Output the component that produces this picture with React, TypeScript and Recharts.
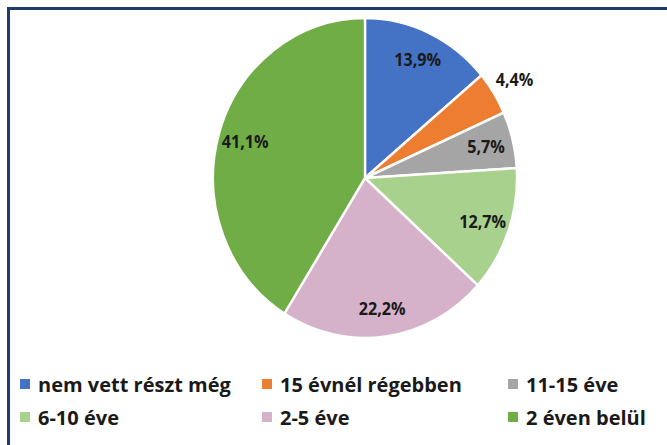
import React from "react";
import { Pie, PieChart, Cell } from "recharts";

const categories = [
  "nem vett részt még",
  "15 évnél régebben",
  "11-15 éve",
  "6-10 éve",
  "2-5 éve",
  "2 éven belül",
];
const shares = [13.9, 4.4, 5.7, 12.7, 22.2, 41.1];
const colors = ["#4472C4", "#ED7D31", "#A5A5A5", "#A9D18E", "#D5B2C9", "#70AD47"];
// slices whose label sits outside the pie
const outsideLabels = [1];

const data = categories.map((name, i) => ({ name, value: shares[i] }));

const RAD = Math.PI / 180;
const fmt = (v: number) => v.toFixed(1).replace(".", ",") + "%";

function renderLabel(props: any) {
  const { cx, cy, midAngle, outerRadius, index, value } = props;
  const r = outerRadius * (outsideLabels.includes(index) ? 1.16 : 0.82);
  const x = cx + r * Math.cos(-midAngle * RAD);
  const y = cy + r * Math.sin(-midAngle * RAD);
  return (
    <text
      x={x}
      y={y}
      textAnchor="middle"
      dominantBaseline="central"
      fill="#1a1a1a"
      fontSize={17}
      fontWeight={700}
      fontFamily="'Open Sans', sans-serif"
    >
      {fmt(value)}
    </text>
  );
}

const legendCols = [20, 262, 508];
const legendRows = [384, 417];

export default function App() {
  return (
    <div
      style={{
        position: "absolute",
        left: 0,
        top: 0,
        width: 667,
        height: 445,
        overflow: "hidden",
        background: "#fff",
      }}
    >
      <div
        style={{
          position: "absolute",
          left: 7,
          top: 7,
          width: 700,
          height: 500,
          border: "3px solid #1F3A6E",
          boxSizing: "border-box",
        }}
      />
      <div
        style={{
          position: "absolute",
          left: 0,
          top: 0,
          transform: "scaleX(0.95)",
          transformOrigin: "365px 178px",
        }}
      >
        <PieChart width={667} height={360} margin={{ top: 0, right: 0, bottom: 0, left: 0 }}>
          <Pie
            data={data}
            dataKey="value"
            nameKey="name"
            cx={365}
            cy={178}
            outerRadius={160}
            startAngle={90}
            endAngle={-270}
            stroke="#fff"
            strokeWidth={2.5}
            label={renderLabel}
            labelLine={false}
            isAnimationActive={false}
          >
            {data.map((d, i) => (
              <Cell key={d.name} fill={colors[i]} />
            ))}
          </Pie>
        </PieChart>
      </div>
      {categories.map((name, i) => (
        <div
          key={name}
          style={{
            position: "absolute",
            left: legendCols[i % 3],
            top: legendRows[Math.floor(i / 3)] - 15,
            height: 30,
            display: "flex",
            alignItems: "center",
            fontFamily: "'Open Sans', sans-serif",
            fontWeight: 700,
            fontSize: 20,
            color: "#1a1a1a",
            whiteSpace: "nowrap",
          }}
        >
          <span
            style={{
              display: "inline-block",
              width: 10,
              height: 10,
              background: colors[i],
              marginRight: 8,
            }}
          />
          {name}
        </div>
      ))}
    </div>
  );
}
